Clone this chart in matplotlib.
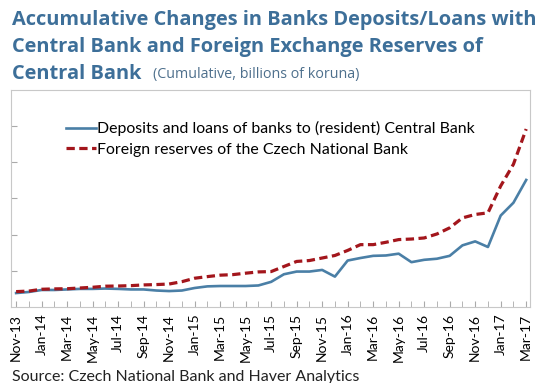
import numpy as np
import pandas as pd
import matplotlib
matplotlib.use("Agg")
import matplotlib.pyplot as plt

# Data (cumulative change, billions of koruna)
months = pd.date_range("2013-11-01", "2017-03-01", freq="MS")
deposits = [76, 82, 93, 93, 96, 99, 99, 101, 99, 96, 96, 90, 87, 90,
            104, 113, 115, 115, 115, 118, 138, 180, 195, 195, 204, 167,
            256, 270, 282, 284, 294, 247, 260, 266, 282, 340, 362, 331,
            505, 576, 702]
reserves = [84, 87, 97, 99, 100, 104, 108, 114, 115, 117, 121, 123, 126, 139,
            158, 167, 175, 178, 186, 193, 195, 223, 251, 256, 270, 284,
            312, 344, 344, 357, 372, 375, 381, 403, 437, 492, 511, 520,
            669, 789, 984]
tick_labels = [m.strftime("%b-%y") for m in months[::2]]

title_color = "#3d6f99"
blue = "#4a7fa6"
red = "#a3161c"

fig = plt.figure(figsize=(5.37, 3.83), dpi=100)
ax = fig.add_axes([0.0205, 0.199, 0.9665, 0.566])

x = np.arange(len(months))
ax.plot(x, deposits, color=blue, lw=1.9,
        label="Deposits and loans of banks to (resident) Central Bank")
ax.plot(x, reserves, color=red, lw=2.3, ls=(0, (2.6, 1.4)),
        label="Foreign reserves of the Czech National Bank")

ax.set_xlim(-0.4, 40.3)
ax.set_ylim(0, 1200)
ax.set_yticks([200, 400, 600, 800, 1000])
ax.set_yticklabels([])
ax.set_xticks(x[::2])
ax.set_xticklabels(tick_labels, rotation=90, fontsize=10, family="Lato")
ax.set_xticks(x, minor=True)
ax.tick_params(axis="x", which="both", direction="in", length=4, color="#aaaaaa", pad=5)
ax.tick_params(axis="y", direction="in", length=4, color="#aaaaaa")
for s in ax.spines.values():
    s.set_color("#c8c8c8")

ax.legend(loc="upper left", bbox_to_anchor=(0.093, 0.885), frameon=False,
          prop={"family": "Lato", "size": 11.4}, handlelength=1.9,
          handletextpad=0.1, labelspacing=0.4, borderaxespad=0)

fig.text(0.022, 0.935, "Accumulative Changes in Banks Deposits/Loans with",
         fontsize=14.4, fontweight="bold", family="Open Sans", color=title_color)
fig.text(0.022, 0.865, "Central Bank and Foreign Exchange Reserves of",
         fontsize=14.4, fontweight="bold", family="Open Sans", color=title_color)
fig.text(0.022, 0.795, "Central Bank", fontsize=14.4, fontweight="bold",
         family="Open Sans", color=title_color)
fig.text(0.285, 0.797, "(Cumulative, billions of koruna)", fontsize=10.3,
         family="Open Sans", color="#4d6f8c")
fig.text(0.022, 0.005, "Source: Czech National Bank and Haver Analytics",
         fontsize=11.5, family="Lato", color="#222222")

fig.savefig("out.png", dpi=100)
